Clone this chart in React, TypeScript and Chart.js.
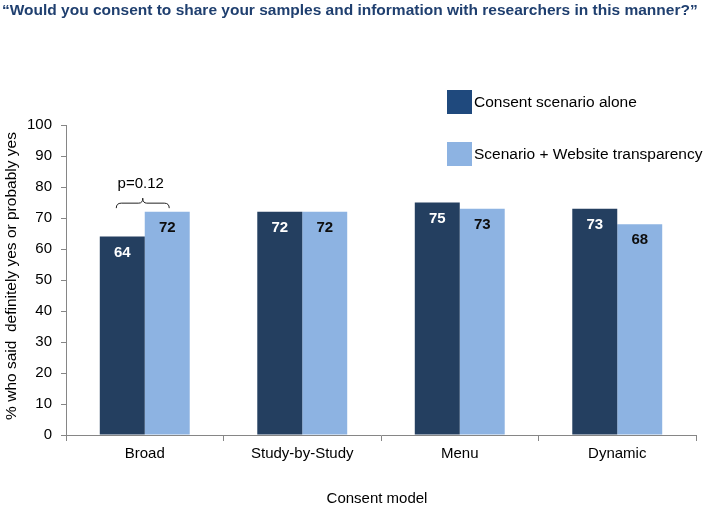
import React, { useEffect, useRef } from "react";
import { Chart, registerables } from "chart.js";

Chart.register(...registerables);

const categories = ["Broad", "Study-by-Study", "Menu", "Dynamic"];
const scenarioAlone = [64, 72, 75, 73];
const scenarioWebsite = [72, 72, 73, 68];
const seriesNames = ["Consent scenario alone", "Scenario + Website transparency"];
const yTicks = [0, 10, 20, 30, 40, 50, 60, 70, 80, 90, 100];
const titleText = "\u201CWould you consent to share your samples and information with researchers in this manner?\u201D";
const yTitle = "% who said  definitely yes or probably yes";
const xTitle = "Consent model";
const pLabel = "p=0.12";
const bracketValue = 73.5;
const pLabelValue = 81;

const FONT = "'Liberation Sans', Arial, sans-serif";
const DARK = "#243F60";
const LIGHT = "#8DB3E2";
const LEGEND_DARK = "#1F497D";

const overlayPlugin = {
  id: "overlay",
  afterDraw(chart: any) {
    const ctx = chart.ctx;
    const area = chart.chartArea;
    const yScale = chart.scales.y;
    ctx.save();

    // Title
    ctx.font = `bold 15.5px ${FONT}`;
    ctx.fillStyle = "#1F3F6F";
    ctx.textAlign = "left";
    ctx.textBaseline = "middle";
    ctx.fillText(titleText, 2, 10.5);

    // Data labels
    ctx.font = `bold 15px ${FONT}`;
    ctx.textAlign = "center";
    chart.data.datasets.forEach((ds: any, di: number) => {
      const meta = chart.getDatasetMeta(di);
      meta.data.forEach((bar: any, i: number) => {
        ctx.fillStyle = di === 0 ? "#FFFFFF" : "#0D0D0D";
        ctx.fillText(String(ds.data[i]), bar.x, bar.y + 16);
      });
    });

    // Bracket over first category
    const b0 = chart.getDatasetMeta(0).data[0];
    const b1 = chart.getDatasetMeta(1).data[0];
    const left = b0.x - 6;
    const right = b1.x + 2;
    const mid = (left + right) / 2;
    const yb = yScale.getPixelForValue(bracketValue);
    ctx.strokeStyle = "#222";
    ctx.lineWidth = 1;
    ctx.beginPath();
    ctx.moveTo(left, yb + 1);
    ctx.quadraticCurveTo(left, yb - 4, left + 5, yb - 4);
    ctx.lineTo(mid - 4, yb - 4);
    ctx.quadraticCurveTo(mid, yb - 4, mid, yb - 9);
    ctx.quadraticCurveTo(mid, yb - 4, mid + 4, yb - 4);
    ctx.lineTo(right - 5, yb - 4);
    ctx.quadraticCurveTo(right, yb - 4, right, yb + 1);
    ctx.stroke();
    ctx.font = `15px ${FONT}`;
    ctx.fillStyle = "#000";
    ctx.textAlign = "center";
    ctx.fillText(pLabel, mid - 2, yScale.getPixelForValue(pLabelValue));

    // Legend
    const legendColors = [LEGEND_DARK, LIGHT];
    const legendY = [90, 142];
    ctx.font = `15.5px ${FONT}`;
    ctx.textAlign = "left";
    seriesNames.forEach((name, i) => {
      ctx.fillStyle = legendColors[i];
      ctx.fillRect(447, legendY[i], 25, 24);
      ctx.fillStyle = "#000";
      ctx.fillText(name, 474, legendY[i] + 13);
    });

    // Axis titles
    ctx.font = `15px ${FONT}`;
    ctx.fillStyle = "#000";
    ctx.textAlign = "center";
    ctx.fillText(xTitle, (area.left + area.right) / 2 - 4, 499);
    ctx.font = `15.5px ${FONT}`;
    ctx.translate(12, (area.top + area.bottom) / 2 - 4);
    ctx.rotate(-Math.PI / 2);
    ctx.fillText(yTitle, 0, 0);

    ctx.restore();
  },
};

export default function App() {
  const ref = useRef<HTMLCanvasElement | null>(null);
  useEffect(() => {
    document.body.style.margin = "0";
    const canvas = ref.current!;
    const chart = new Chart(canvas, {
      type: "bar",
      data: {
        labels: categories,
        datasets: [
          { label: seriesNames[0], data: scenarioAlone, backgroundColor: DARK, barPercentage: 1, categoryPercentage: 0.571 },
          { label: seriesNames[1], data: scenarioWebsite, backgroundColor: LIGHT, barPercentage: 1, categoryPercentage: 0.571 },
        ],
      },
      options: {
        responsive: false,
        animation: false,
        devicePixelRatio: 1,
        layout: { padding: { left: 0, right: 7, top: 125, bottom: 0 } },
        plugins: { legend: { display: false }, title: { display: false }, tooltip: { enabled: false } },
        scales: {
          x: {
            afterFit: (s: any) => { s.height = 70; },
            grid: { display: true, offset: true, drawOnChartArea: false, drawTicks: true, tickLength: 6, color: "#868686" },
            border: { display: true, color: "#868686" },
            ticks: { color: "#000", font: { family: FONT, size: 15 }, padding: 4, maxRotation: 0 },
          },
          y: {
            min: 0,
            max: 100,
            afterFit: (s: any) => { s.width = 66; },
            afterBuildTicks: (s: any) => { s.ticks = yTicks.map((v) => ({ value: v })); },
            grid: { display: true, drawOnChartArea: false, drawTicks: true, tickLength: 5, color: "#868686" },
            border: { display: true, color: "#868686" },
            ticks: { color: "#000", font: { family: FONT, size: 15 }, padding: 9 },
          },
        },
      },
      plugins: [overlayPlugin],
    });
    return () => chart.destroy();
  }, []);
  return (
    <div style={{ position: "fixed", left: 0, top: 0, width: 703, height: 505 }}>
      <canvas ref={ref} width={703} height={505} style={{ width: 703, height: 505 }} />
    </div>
  );
}
